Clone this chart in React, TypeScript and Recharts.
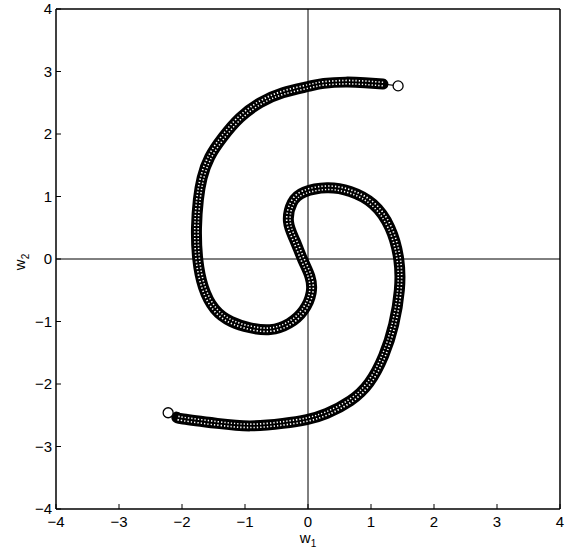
import React from 'react';
import {
  ComposedChart,
  Line,
  Scatter,
  XAxis,
  YAxis,
  ReferenceLine,
} from 'recharts';

// weight trajectory, traced in order from the upper start to the lower end
const w1 = [
  1.43, 1.19, 0.9, 0.6, 0.25, 0.0, -0.4, -0.76, -1.08, -1.35, -1.56, -1.68,
  -1.74, -1.77, -1.75, -1.66, -1.48, -1.22, -0.92, -0.6, -0.3, -0.07, 0.05,
  0.03, -0.08, -0.21, -0.31, -0.25, -0.06, 0.3, 0.67, 1.03, 1.3, 1.44, 1.45,
  1.36, 1.2, 0.97, 0.67, 0.3, -0.02, -0.4, -0.92, -1.44, -1.98, -2.08, -2.22,
];
const w2 = [
  2.77, 2.8, 2.82, 2.83, 2.81, 2.76, 2.66, 2.5, 2.26, 1.95, 1.63, 1.3, 0.95,
  0.5, 0.0, -0.45, -0.8, -1.0, -1.1, -1.13, -1.03, -0.82, -0.54, -0.28, -0.02,
  0.3, 0.6, 0.9, 1.07, 1.14, 1.08, 0.88, 0.5, 0.0, -0.5, -1.05, -1.55, -1.98,
  -2.27, -2.47, -2.57, -2.63, -2.67, -2.63, -2.56, -2.53, -2.46,
];
const axisTicks = [-4, -3, -2, -1, 0, 1, 2, 3, 4];

const path = w1.map((x, i) => ({ x, y: w2[i] }));
const body = path.slice(1, -1);
const ends = [path[0], path[path.length - 1]];

const font = '"Liberation Sans", Arial, Helvetica, sans-serif';
const fmt = (v: number) => String(v).replace('-', '\u2212');
const TICK = 5;
const axisStroke = { stroke: '#000', strokeWidth: 1.5 };

// inward tick marks drawn by hand, labels outside the frame
const BottomTick = ({ x, y, payload }: any) => (
  <g>
    <line x1={x} x2={x} y1={y} y2={y - TICK} stroke="#000" />
    <text x={x} y={y + 18} textAnchor="middle" fontFamily={font} fontSize={15} fill="#000">
      {fmt(payload.value)}
    </text>
  </g>
);
const TopTick = ({ x, y }: any) => (
  <line x1={x} x2={x} y1={y} y2={y + TICK} stroke="#000" />
);
const LeftTick = ({ x, y, payload }: any) => (
  <g>
    <line x1={x} x2={x + TICK} y1={y} y2={y} stroke="#000" />
    <text x={x - 4} y={y + 5} textAnchor="end" fontFamily={font} fontSize={15} fill="#000">
      {fmt(payload.value)}
    </text>
  </g>
);
const RightTick = ({ x, y }: any) => (
  <line x1={x} x2={x - TICK} y1={y} y2={y} stroke="#000" />
);

const EndMarker = (props: any) => (
  <circle cx={props.cx} cy={props.cy} r={5} fill="#fff" stroke="#000" strokeWidth={1.3} />
);

const XLabel = (props: any) => {
  const { x, y, width } = props.viewBox;
  return (
    <text x={x + width / 2} y={y + 34} textAnchor="middle" fontFamily={font} fontSize={15} fill="#000">
      w<tspan fontSize={10} dy={4}>1</tspan>
    </text>
  );
};

const YLabel = () => (
  <text
    x={0}
    y={0}
    transform="translate(25,262) rotate(-90)"
    textAnchor="middle"
    fontFamily={font}
    fontSize={15}
    fill="#000"
  >
    w<tspan fontSize={10} dy={4}>2</tspan>
  </text>
);

export default function App() {
  return (
    <div style={{ position: 'absolute', left: 0, top: 0, background: '#fff' }}>
      <ComposedChart
        width={567}
        height={550}
        margin={{ top: 4, right: 2, bottom: 11, left: 16 }}
      >
        <XAxis
          dataKey="x"
          type="number"
          domain={[-4, 4]}
          ticks={axisTicks}
          height={30}
          tickSize={0}
          tickMargin={0}
          tickLine={false}
          tick={<BottomTick />}
          axisLine={axisStroke}
          label={<XLabel />}
        />
        <XAxis
          xAxisId="top"
          orientation="top"
          type="number"
          domain={[-4, 4]}
          ticks={axisTicks}
          height={5}
          tickSize={0}
          tickMargin={0}
          tickLine={false}
          tick={<TopTick />}
          axisLine={axisStroke}
        />
        <YAxis
          dataKey="y"
          type="number"
          domain={[-4, 4]}
          ticks={axisTicks}
          width={40}
          tickSize={0}
          tickMargin={0}
          tickLine={false}
          tick={<LeftTick />}
          axisLine={axisStroke}
          label={<YLabel />}
        />
        <YAxis
          yAxisId="right"
          orientation="right"
          type="number"
          domain={[-4, 4]}
          ticks={axisTicks}
          width={5}
          tickSize={0}
          tickMargin={0}
          tickLine={false}
          tick={<RightTick />}
          axisLine={axisStroke}
        />
        <ReferenceLine x={0} stroke="#000" strokeWidth={1} />
        <ReferenceLine y={0} stroke="#000" strokeWidth={1} />

        {/* thin connecting line through every sample */}
        <Line data={path} dataKey="y" type="linear" stroke="#000" strokeWidth={1.2} dot={false} activeDot={false} isAnimationActive={false} />
        {/* dense marker band: dark body, speckled core, center stroke */}
        <Line data={body} dataKey="y" type="natural" stroke="#000" strokeWidth={11} strokeLinecap="round" strokeLinejoin="round" dot={false} activeDot={false} isAnimationActive={false} />
        <Line data={body} dataKey="y" type="natural" stroke="#fff" strokeWidth={5} strokeDasharray="1.3 2" dot={false} activeDot={false} isAnimationActive={false} />
        <Line data={body} dataKey="y" type="natural" stroke="#000" strokeWidth={1.8} dot={false} activeDot={false} isAnimationActive={false} />
        <Scatter data={ends} dataKey="y" shape={<EndMarker />} isAnimationActive={false} />
      </ComposedChart>
    </div>
  );
}
